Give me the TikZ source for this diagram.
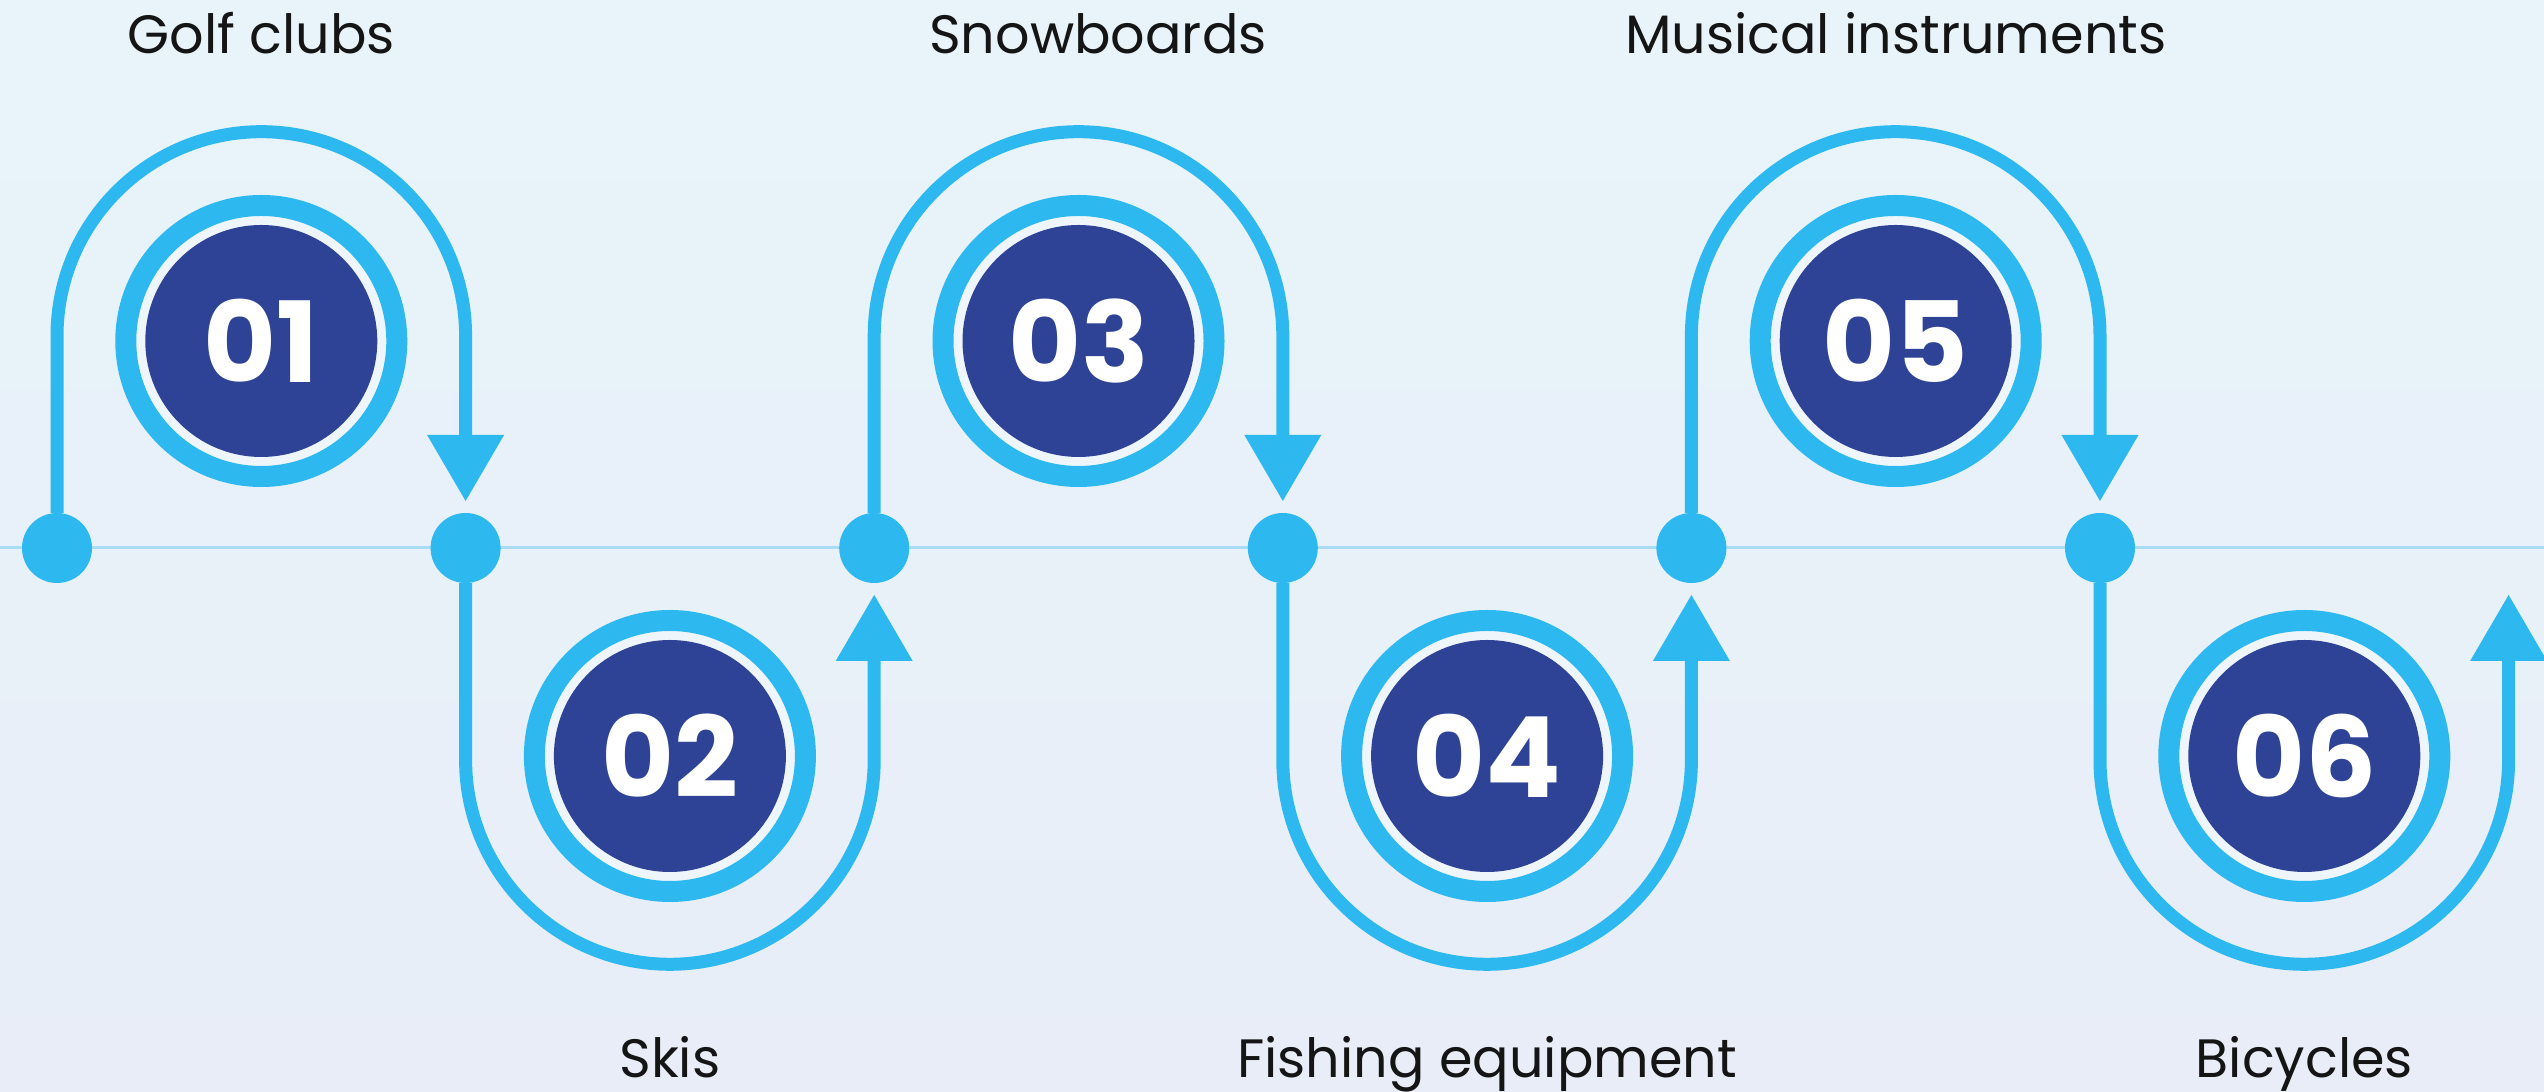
\documentclass[tikz,border=0pt]{standalone}
\usepackage{fontspec}
\setmainfont{Poppins}
\usetikzlibrary{arrows.meta}
\definecolor{skyline}{HTML}{2DB9F0}
\definecolor{navyfill}{HTML}{2E4396}
\definecolor{bgtop}{HTML}{E8F4FA}
\definecolor{bgbottom}{HTML}{E8EDF7}
\definecolor{axisblue}{HTML}{A8DDF5}
\definecolor{gapfill}{HTML}{EEF5FB}
\definecolor{labeltext}{HTML}{151515}

\begin{document}
\begin{tikzpicture}[x=0.5pt,y=0.5pt,
  stopdot/.style={circle,fill=skyline,minimum size=35pt,inner sep=0pt,outer sep=0pt},
  ringnode/.style={circle,draw=skyline,line width=10.5pt,fill=gapfill,minimum size=135.5pt,inner sep=0pt},
  numnode/.style={circle,fill=navyfill,minimum size=116pt,inner sep=0pt,text=white,
    font=\fontsize{56pt}{60pt}\selectfont\bfseries},
  itemlabel/.style={anchor=base,text=labeltext,inner sep=0pt,font=\fontsize{27pt}{32pt}\selectfont},
  loopline/.style={draw=skyline,line width=6.5pt,shorten >=6pt,
    -{Triangle[width=38.5pt,length=33pt,line width=0pt]}}]
\useasboundingbox (0,0) rectangle (2544,1092);
\fill[top color=bgtop,bottom color=bgbottom] (0,0) rectangle (2544,1092);

\coordinate (axisW) at (0,544);
\coordinate (axisE) at (2544,544);
\draw[axisblue,line width=1.5pt] (axisW) -- (axisE);

\node[stopdot] (d1) at (57,544) {};
\node[stopdot] (d2) at (465.6,544) {};
\node[stopdot] (d3) at (874.2,544) {};
\node[stopdot] (d4) at (1282.8,544) {};
\node[stopdot] (d5) at (1691.4,544) {};
\node[stopdot] (d6) at (2100,544) {};
\node[stopdot,fill=none] (d7) at (2508.6,544) {};

\draw[loopline] (d1) -- ++(0,212) arc[start angle=180,end angle=0,radius=102.15pt] -- (d2);
\draw[loopline] (d2) -- ++(0,-212) arc[start angle=180,end angle=360,radius=102.15pt] -- (d3);
\draw[loopline] (d3) -- ++(0,212) arc[start angle=180,end angle=0,radius=102.15pt] -- (d4);
\draw[loopline] (d4) -- ++(0,-212) arc[start angle=180,end angle=360,radius=102.15pt] -- (d5);
\draw[loopline] (d5) -- ++(0,212) arc[start angle=180,end angle=0,radius=102.15pt] -- (d6);
\draw[loopline] (d6) -- ++(0,-212) arc[start angle=180,end angle=360,radius=102.15pt] -- (d7);

\node[ringnode] (c1) at (261.3,751) {};
\node[numnode] (n1) at (c1) {01};
\node[ringnode] (c2) at (669.9,336) {};
\node[numnode] (n2) at (c2) {02};
\node[ringnode] (c3) at (1078.5,751) {};
\node[numnode] (n3) at (c3) {03};
\node[ringnode] (c4) at (1487.1,336) {};
\node[numnode] (n4) at (c4) {04};
\node[ringnode] (c5) at (1895.7,751) {};
\node[numnode] (n5) at (c5) {05};
\node[ringnode] (c6) at (2304.3,336) {};
\node[numnode] (n6) at (c6) {06};

\node[itemlabel] (t1) at (261.3,1038) {Golf clubs};
\node[itemlabel] (t2) at (669.9,14) {Skis};
\node[itemlabel] (t3) at (1098,1038) {Snowboards};
\node[itemlabel] (t4) at (1487.1,14) {Fishing equipment};
\node[itemlabel] (t5) at (1895.7,1038) {Musical instruments};
\node[itemlabel] (t6) at (2304.3,14) {Bicycles};
\end{tikzpicture}
\end{document}
